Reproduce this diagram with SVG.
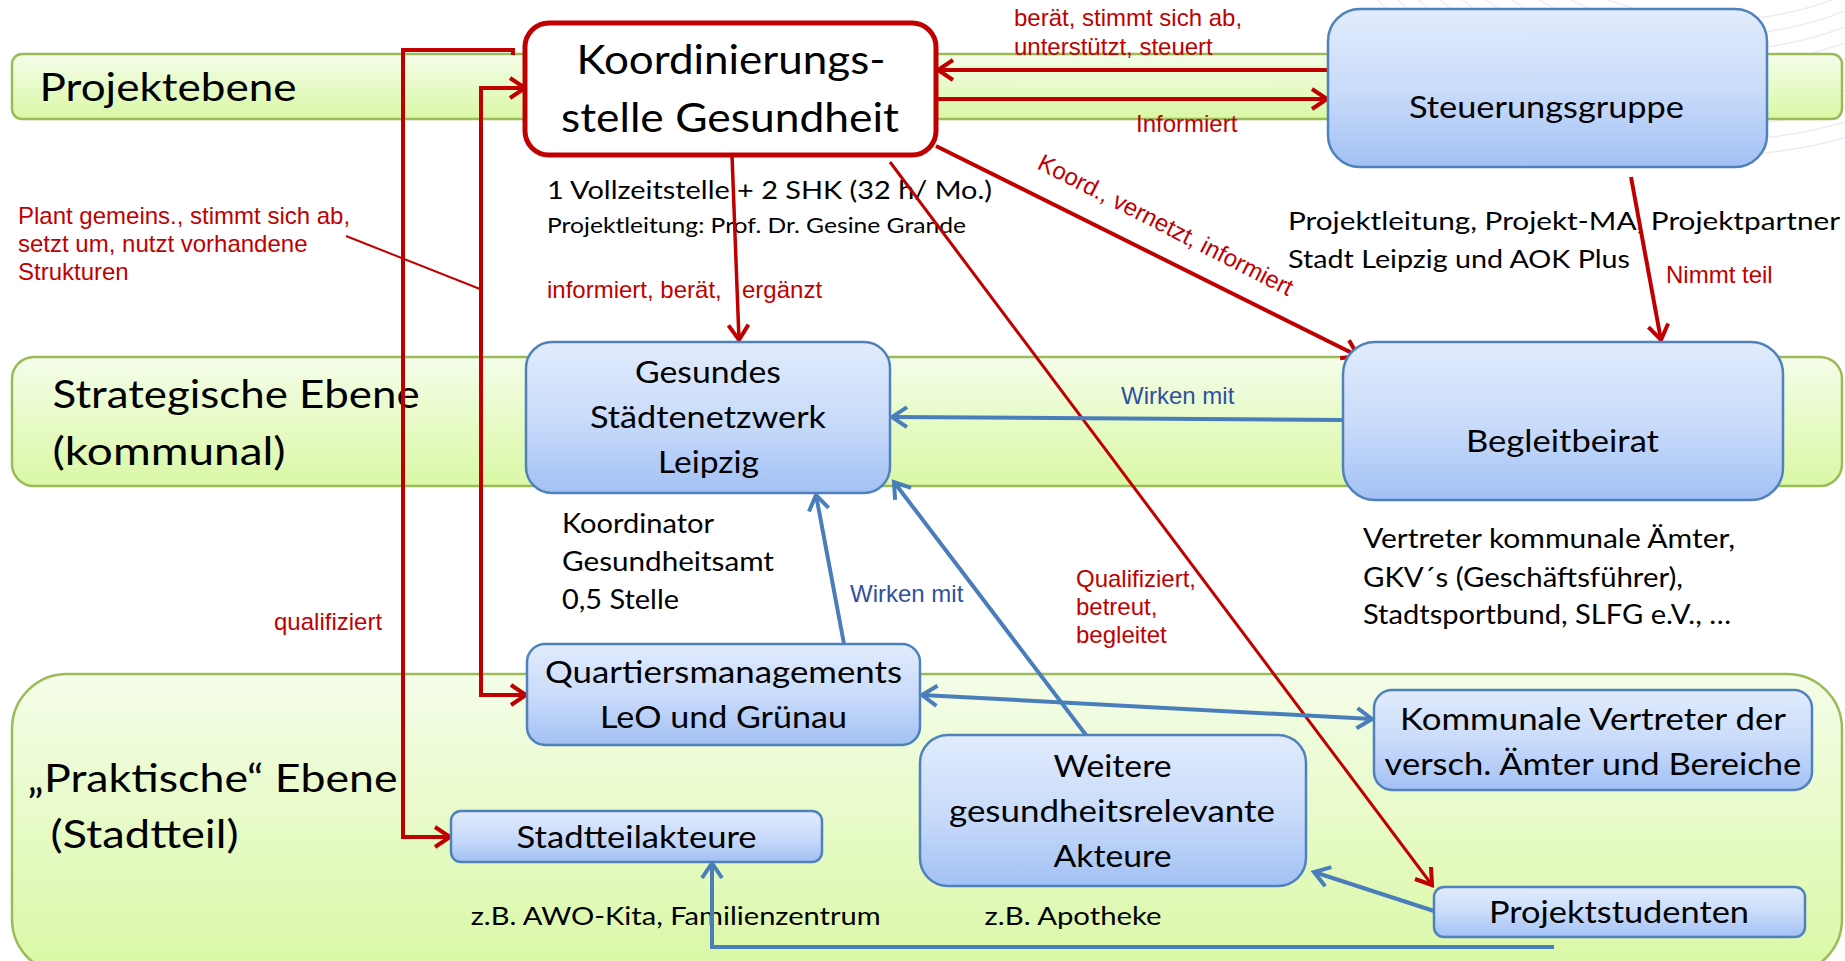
<svg xmlns="http://www.w3.org/2000/svg" width="1845" height="961" viewBox="0 0 1845 961">
<defs>
<linearGradient id="gGreen" x1="0" y1="0" x2="0" y2="1"><stop offset="0" stop-color="#f4fde9"/><stop offset="1" stop-color="#daf8a5"/></linearGradient>
<linearGradient id="gBlue" x1="0" y1="0" x2="0" y2="1"><stop offset="0" stop-color="#e1ebfc"/><stop offset="0.5" stop-color="#cadcfa"/><stop offset="1" stop-color="#a3c1f5"/></linearGradient>
<marker id="arR" markerWidth="24" markerHeight="24" refX="20" refY="12" orient="auto" markerUnits="userSpaceOnUse" overflow="visible"><path d="M5,2 L20,12 L5,22" fill="none" stroke="#c00000" stroke-width="4"/></marker>
<marker id="arRs" markerWidth="24" markerHeight="24" refX="20" refY="12" orient="auto-start-reverse" markerUnits="userSpaceOnUse" overflow="visible"><path d="M5,2 L20,12 L5,22" fill="none" stroke="#c00000" stroke-width="4"/></marker>
<marker id="arB" markerWidth="24" markerHeight="24" refX="20" refY="12" orient="auto-start-reverse" markerUnits="userSpaceOnUse" overflow="visible"><path d="M5,2 L20,12 L5,22" fill="none" stroke="#4a7ebb" stroke-width="4"/></marker>
</defs>
<style>
.band{fill:url(#gGreen);stroke:#9bbb59;stroke-width:2.5}
.node{fill:url(#gBlue);stroke:#4f81bd;stroke-width:2.5}
.lvl{font-family:Lato,"Open Sans",sans-serif;font-size:39px;fill:#000}
.nt{font-family:Lato,"Open Sans",sans-serif;font-size:30px;fill:#000}
.kt{font-family:Lato,"Open Sans",sans-serif;font-size:40px;fill:#000}
.an{font-family:Lato,"Open Sans",sans-serif;font-size:25px;fill:#000}
.an2{font-family:Lato,"Open Sans",sans-serif;font-size:21px;fill:#000}
.an3{font-family:Lato,"Open Sans",sans-serif;font-size:26px;fill:#000}
.rl{font-family:"Liberation Sans",Arial,sans-serif;font-size:24px;fill:#c00000}
.bl{font-family:"Liberation Sans",Arial,sans-serif;font-size:24px;fill:#30509f}
.cr{fill:none;stroke:#c00000;stroke-width:4}
.cb{fill:none;stroke:#4a7ebb;stroke-width:4}
.deco{fill:none;stroke:#e9e9f0;stroke-width:1.2}
</style>
<rect width="1845" height="961" fill="#ffffff"/>
<g id="decoration">
<circle class="deco" cx="1720" cy="-300" r="320"/>
<circle class="deco" cx="1720" cy="-300" r="335"/>
<circle class="deco" cx="1720" cy="-300" r="350"/>
<circle class="deco" cx="1720" cy="-300" r="365"/>
<circle class="deco" cx="1720" cy="-300" r="380"/>
<circle class="deco" cx="1720" cy="-300" r="395"/>
<circle class="deco" cx="1720" cy="-300" r="410"/>
<circle class="deco" cx="1720" cy="-300" r="425"/>
<circle class="deco" cx="1720" cy="-300" r="440"/>
<circle class="deco" cx="1720" cy="-300" r="455"/>
</g>
<g id="lane-projektebene">
<rect class="band" x="12" y="54" width="1830" height="65" rx="10"/>
<text class="lvl" x="39.5" y="101" textLength="257" lengthAdjust="spacingAndGlyphs">Projektebene</text>
</g>
<g id="lane-strategisch">
<rect class="band" x="12" y="357" width="1830" height="129" rx="22"/>
<text class="lvl" x="52.6" y="408" textLength="367" lengthAdjust="spacingAndGlyphs">Strategische Ebene</text>
<text class="lvl" x="52.6" y="465" textLength="233" lengthAdjust="spacingAndGlyphs">(kommunal)</text>
</g>
<g id="lane-praktisch">
<rect class="band" x="12" y="674" width="1830" height="300" rx="55"/>
<text class="lvl" x="27.6" y="792" textLength="370" lengthAdjust="spacingAndGlyphs">„Praktische“ Ebene</text>
<text class="lvl" x="50.5" y="848" textLength="188" lengthAdjust="spacingAndGlyphs">(Stadtteil)</text>
</g>
<g id="annotations">
<text class="an" x="547" y="199" textLength="445" lengthAdjust="spacingAndGlyphs">1 Vollzeitstelle + 2 SHK (32 h/ Mo.)</text>
<text class="an2" x="547" y="233" textLength="419" lengthAdjust="spacingAndGlyphs">Projektleitung: Prof. Dr. Gesine Grande</text>
<text class="an" x="1288" y="230" textLength="552" lengthAdjust="spacingAndGlyphs">Projektleitung, Projekt-MA, Projektpartner</text>
<text class="an" x="1288" y="268" textLength="342" lengthAdjust="spacingAndGlyphs">Stadt Leipzig und AOK Plus</text>
<text class="an3" x="562" y="533" textLength="152" lengthAdjust="spacingAndGlyphs">Koordinator</text>
<text class="an3" x="562" y="571" textLength="212" lengthAdjust="spacingAndGlyphs">Gesundheitsamt</text>
<text class="an3" x="562" y="609" textLength="117" lengthAdjust="spacingAndGlyphs">0,5 Stelle</text>
<text class="an3" x="1363" y="548" textLength="372" lengthAdjust="spacingAndGlyphs">Vertreter kommunale Ämter,</text>
<text class="an3" x="1363" y="587" textLength="320" lengthAdjust="spacingAndGlyphs">GKV´s (Geschäftsführer),</text>
<text class="an3" x="1363" y="624" textLength="368" lengthAdjust="spacingAndGlyphs">Stadtsportbund, SLFG e.V., …</text>
<text class="an" x="470.7" y="925" textLength="410" lengthAdjust="spacingAndGlyphs">z.B. AWO-Kita, Familienzentrum</text>
<text class="an" x="984.6" y="925" textLength="177" lengthAdjust="spacingAndGlyphs">z.B. Apotheke</text>
</g>
<g id="connectors">
<line class="cr" x1="1328" y1="70" x2="938" y2="70" marker-end="url(#arR)"/>
<line class="cr" x1="936" y1="99" x2="1327" y2="99" marker-end="url(#arR)"/>
<line class="cr" x1="936" y1="146" x2="1358" y2="356" marker-end="url(#arR)"/>
<line class="cr" x1="732" y1="155" x2="739" y2="340" style="stroke-width:3.5" marker-end="url(#arR)"/>
<line class="cr" x1="890" y1="162" x2="1432" y2="885" style="stroke-width:3" marker-end="url(#arR)"/>
<line class="cr" x1="1631" y1="177" x2="1661" y2="340" marker-end="url(#arR)"/>
<path class="cr" d="M513,55 L513,50 L403,50 L403,837 L450,837" marker-end="url(#arR)"/>
<path class="cr" d="M525,88 L481,88 L481,695 L526,695" marker-start="url(#arRs)" marker-end="url(#arR)"/>
<line x1="346" y1="236" x2="480" y2="289" stroke="#c00000" stroke-width="2"/>
<line class="cb" x1="1343" y1="420" x2="892" y2="417" marker-end="url(#arB)"/>
<line class="cb" x1="844" y1="644" x2="816" y2="495" marker-end="url(#arB)"/>
<line class="cb" x1="1086" y1="735" x2="894" y2="482" marker-end="url(#arB)"/>
<line class="cb" x1="922" y1="695" x2="1372" y2="719" marker-start="url(#arB)" marker-end="url(#arB)"/>
<line class="cb" x1="1434" y1="911" x2="1314" y2="872" marker-end="url(#arB)"/>
<path class="cb" d="M1554,947 L712,947 L712,863" marker-end="url(#arB)"/>
</g>
<g id="edge-labels">
<text class="rl" x="1014" y="26">berät, stimmt sich ab,</text>
<text class="rl" x="1014" y="55">unterstützt, steuert</text>
<text class="rl" x="1136" y="132">Informiert</text>
<text class="rl" transform="translate(1036,168) rotate(27)">Koord., vernetzt, informiert</text>
<text class="rl" x="18" y="224">Plant gemeins., stimmt sich ab,</text>
<text class="rl" x="18" y="252">setzt um, nutzt vorhandene</text>
<text class="rl" x="18" y="280">Strukturen</text>
<text class="rl" y="298"><tspan x="547">informiert, berät,</tspan><tspan x="742">ergänzt</tspan></text>
<text class="rl" x="1666" y="283">Nimmt teil</text>
<text class="rl" x="274" y="630">qualifiziert</text>
<text class="rl" x="1076" y="587">Qualifiziert,</text>
<text class="rl" x="1076" y="615">betreut,</text>
<text class="rl" x="1076" y="643">begleitet</text>
<text class="bl" x="1121" y="404">Wirken mit</text>
<text class="bl" x="850" y="602">Wirken mit</text>
</g>
<g id="node-koordinierungsstelle">
<rect x="525" y="23" width="411" height="132" rx="24" fill="#ffffff" stroke="#c00000" stroke-width="5"/>
<text class="kt" x="576.5" y="74" textLength="309" lengthAdjust="spacingAndGlyphs">Koordinierungs-</text>
<text class="kt" x="561" y="132" textLength="338" lengthAdjust="spacingAndGlyphs">stelle Gesundheit</text>
</g>
<g id="node-steuerungsgruppe">
<rect class="node" x="1328" y="9" width="439" height="158" rx="32"/>
<text class="nt" x="1409" y="118" textLength="275" lengthAdjust="spacingAndGlyphs">Steuerungsgruppe</text>
</g>
<g id="node-gesundes-staedtenetzwerk">
<rect class="node" x="526" y="342" width="364" height="151" rx="26"/>
<text class="nt" x="635" y="383" textLength="146" lengthAdjust="spacingAndGlyphs">Gesundes</text>
<text class="nt" x="590" y="428" textLength="236" lengthAdjust="spacingAndGlyphs">Städtenetzwerk</text>
<text class="nt" x="658" y="473" textLength="101" lengthAdjust="spacingAndGlyphs">Leipzig</text>
</g>
<g id="node-begleitbeirat">
<rect class="node" x="1343" y="342" width="440" height="158" rx="32"/>
<text class="nt" x="1466" y="452" textLength="193" lengthAdjust="spacingAndGlyphs">Begleitbeirat</text>
</g>
<g id="node-quartiersmanagements">
<rect class="node" x="527" y="644" width="393" height="101" rx="18"/>
<text class="nt" x="545" y="683" textLength="357" lengthAdjust="spacingAndGlyphs">Quartiersmanagements</text>
<text class="nt" x="600" y="728" textLength="247" lengthAdjust="spacingAndGlyphs">LeO und Grünau</text>
</g>
<g id="node-stadtteilakteure">
<rect class="node" x="451" y="811" width="371" height="51" rx="10"/>
<text class="nt" x="516.6" y="848" textLength="240" lengthAdjust="spacingAndGlyphs">Stadtteilakteure</text>
</g>
<g id="node-weitere-akteure">
<rect class="node" x="920" y="735" width="386" height="151" rx="28"/>
<text class="nt" x="1053.5" y="777" textLength="118" lengthAdjust="spacingAndGlyphs">Weitere</text>
<text class="nt" x="949" y="822" textLength="326" lengthAdjust="spacingAndGlyphs">gesundheitsrelevante</text>
<text class="nt" x="1053.5" y="867" textLength="118" lengthAdjust="spacingAndGlyphs">Akteure</text>
</g>
<g id="node-kommunale-vertreter">
<rect class="node" x="1374" y="690" width="438" height="100" rx="18"/>
<text class="nt" x="1400" y="730" textLength="386" lengthAdjust="spacingAndGlyphs">Kommunale Vertreter der</text>
<text class="nt" x="1384.6" y="775" textLength="416.6" lengthAdjust="spacingAndGlyphs">versch. Ämter und Bereiche</text>
</g>
<g id="node-projektstudenten">
<rect class="node" x="1434" y="887" width="371" height="50" rx="10"/>
<text class="nt" x="1489" y="923" textLength="260" lengthAdjust="spacingAndGlyphs">Projektstudenten</text>
</g>
</svg>
